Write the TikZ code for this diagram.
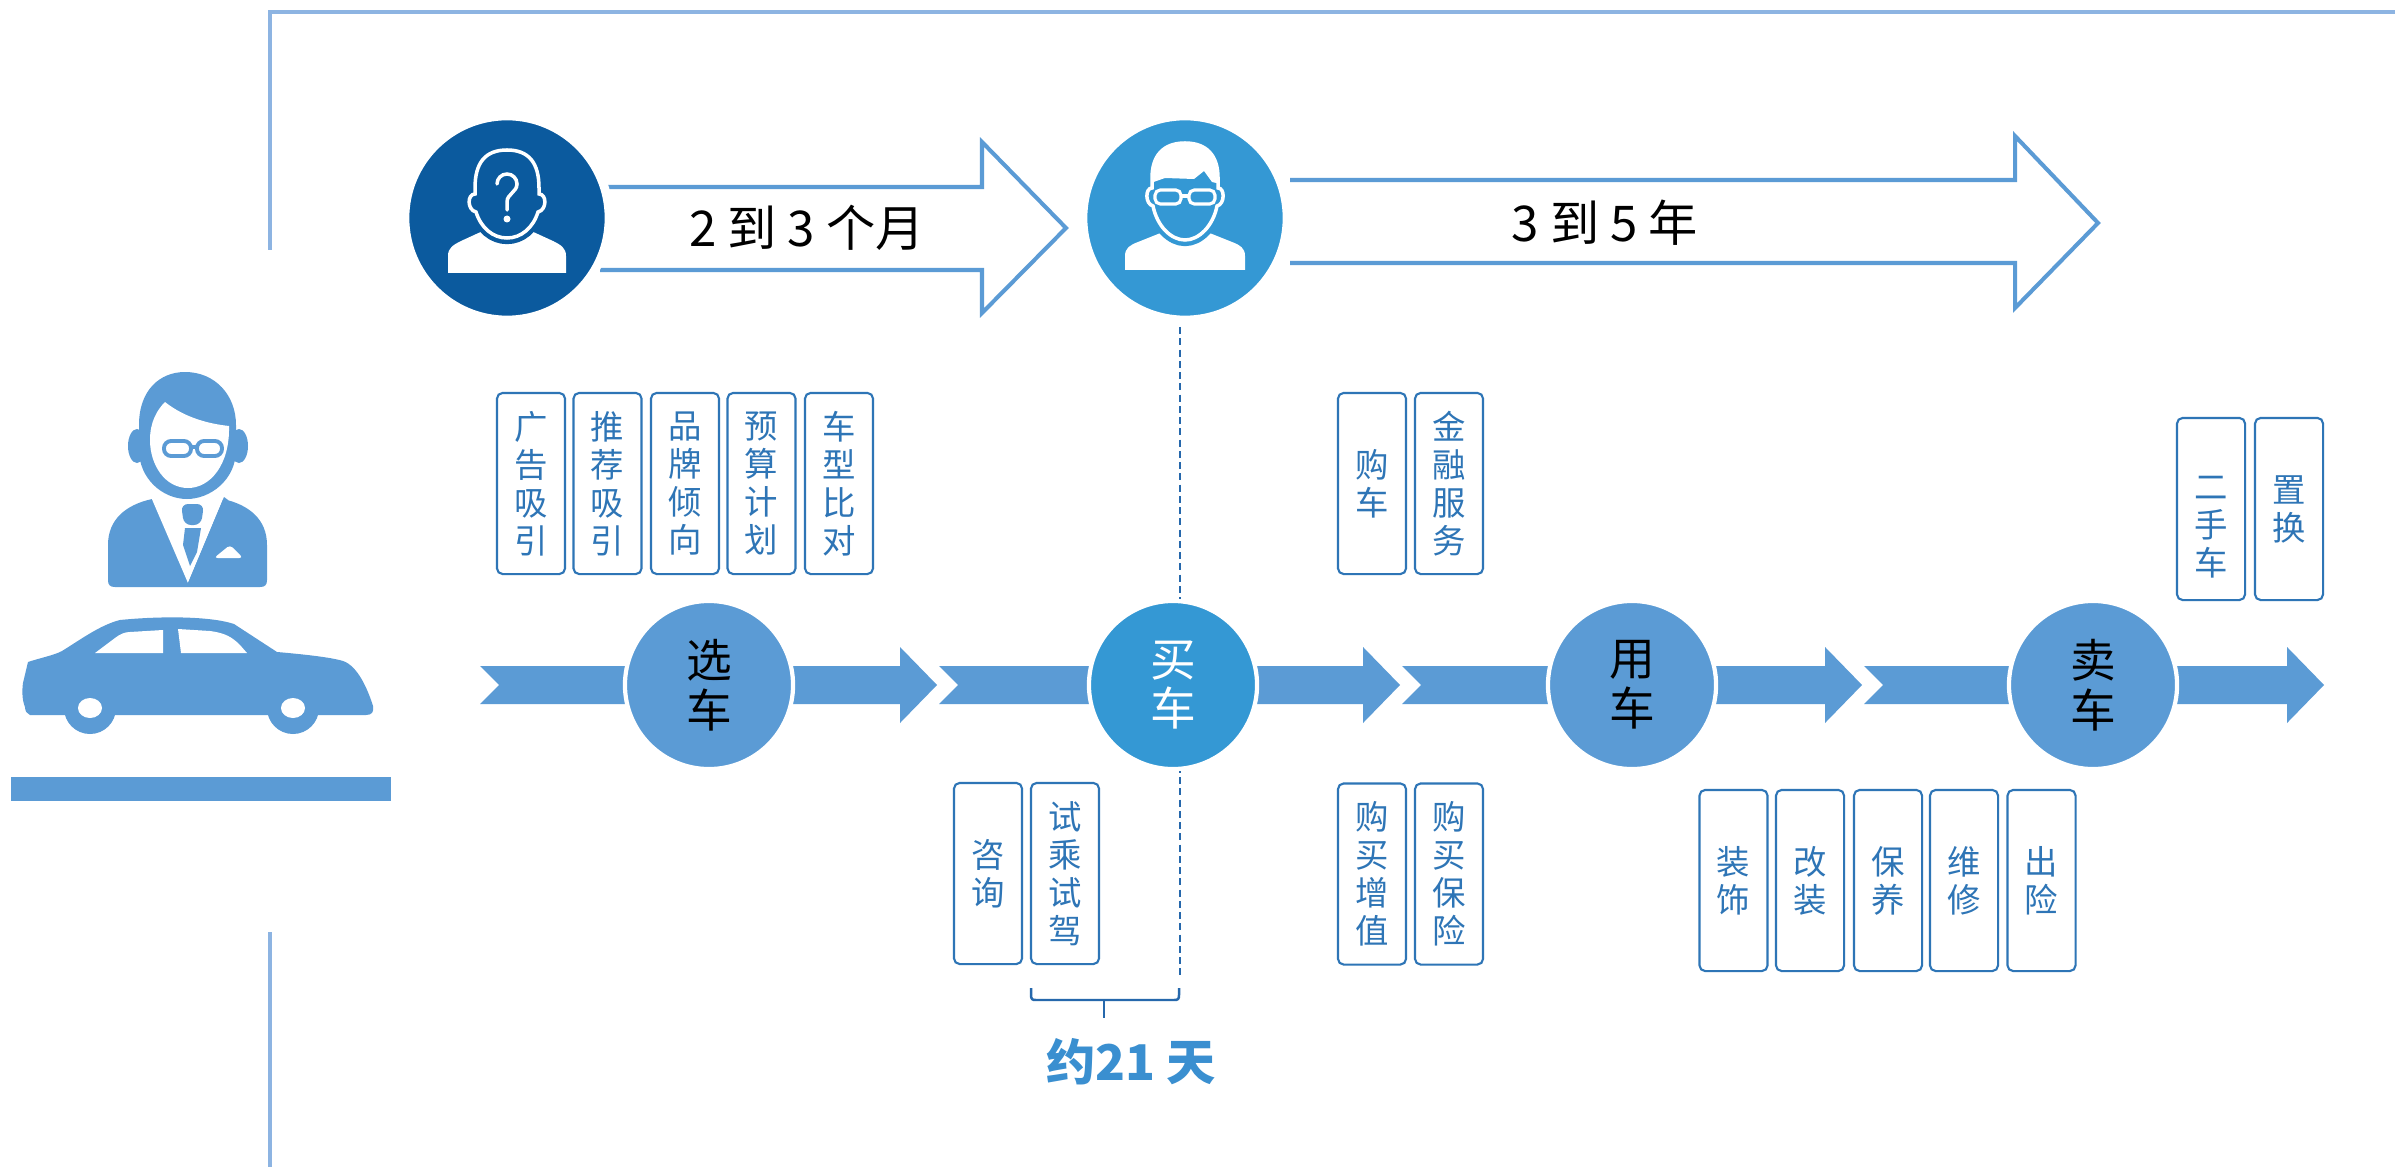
\documentclass[tikz,border=0pt]{standalone}
\usepackage{fontspec}
\newfontfamily\cjk{Noto Sans CJK SC}
\usetikzlibrary{calc}
\definecolor{stageblue}{RGB}{91,155,213}
\definecolor{buyblue}{RGB}{52,152,212}
\definecolor{darkcirc}{RGB}{11,90,158}
\definecolor{boxblue}{RGB}{46,117,182}
\definecolor{framecol}{RGB}{141,180,226}
\definecolor{daycol}{RGB}{58,143,208}
\definecolor{dashcol}{RGB}{38,104,172}

\begin{document}
\begin{tikzpicture}[x=0.01cm, y=-0.01cm,
  tagbox/.style={draw=boxblue, line width=0.6pt, rounded corners=1.6pt,
    minimum width=0.68cm, minimum height=1.81cm, inner sep=0pt,
    text=boxblue, font=\cjk\fontsize{9.5}{10.8}\selectfont, align=center},
  tagtext/.style={inner sep=0pt, text=boxblue,
    font=\cjk\fontsize{9.5}{10.8}\selectfont, align=center},
  stage/.style={circle, fill=stageblue, draw=white, line width=1.2pt,
    minimum size=1.68cm, inner sep=0pt,
    font=\cjk\fontsize{13}{14.2}\selectfont, align=center},
  bigdisc/.style={circle, draw=white, line width=2.5pt,
    minimum size=2.04cm, inner sep=0pt},
  outarrow/.style={draw=stageblue, line width=1.15pt, fill=white},
  spanlabel/.style={font=\cjk\fontsize{14}{16}\selectfont, inner sep=0pt},
]
\useasboundingbox (0,0) rectangle (2395,1167);
\fill[white] (0,0) rectangle (2395,1167);

% frame lines
\draw[framecol, line width=1.14pt] (270,250) -- (270,12) -- (2395,12);
\draw[framecol, line width=1.14pt] (270,932) -- (270,1167);

% ---------- customer and car on the left ----------
% body
\fill[stageblue] (108,580) -- (108,545) .. controls (108,520) and (125,505) .. (152,499)
  -- (223,499) .. controls (250,505) and (267,520) .. (267,545) -- (267,580)
  .. controls (267,585) and (265,587) .. (260,587) -- (115,587)
  .. controls (110,587) and (108,585) .. (108,580) -- cycle;
\fill[white] (151,497) -- (188,583) -- (224,497) -- cycle;
\fill[stageblue, rounded corners=2pt] (181,504) -- (204,504) -- (201,525) -- (184,525) -- cycle;
\fill[stageblue] (185,528) -- (201,528) -- (197,552) -- (190,566) -- (183,545) -- cycle;
\fill[stageblue] (224,497) -- (228,500) -- (192,585) -- (188,583) -- cycle;
\fill[white, rounded corners=1pt] (214,558) -- (243,558) -- (230,545) -- cycle;
% ears and head
\fill[stageblue] (137,446) ellipse (9 and 17);
\fill[stageblue] (239,446) ellipse (9 and 17);
\fill[stageblue] (185,372) .. controls (215,372) and (236,395) .. (236,425) -- (236,450)
  .. controls (236,480) and (210,499) .. (187,499) .. controls (162,499) and (139,478) .. (139,450)
  -- (139,425) .. controls (139,390) and (160,372) .. (185,372) -- cycle;
\fill[white] (165,402) .. controls (185,418) and (210,424) .. (229,426)
  .. controls (230,465) and (210,488) .. (188,488)
  .. controls (165,488) and (150,465) .. (150,440)
  .. controls (150,422) and (157,410) .. (165,402) -- cycle;
\draw[stageblue, line width=1.1pt, rounded corners=2pt] (164,441) rectangle (191,456);
\draw[stageblue, line width=1.1pt, rounded corners=2pt] (197,441) rectangle (222,456);
\draw[stageblue, line width=1.1pt] (191,447) -- (197,447);

% car
\fill[stageblue] (25,707) .. controls (22,700) and (22,690) .. (23,683) -- (28,662)
  .. controls (40,658) and (55,655) .. (62,651) .. controls (80,640) and (100,625) .. (120,620)
  .. controls (160,616) and (210,616) .. (234,624) -- (277,652)
  .. controls (300,654) and (330,657) .. (343,661) .. controls (358,666) and (368,690) .. (373,706)
  .. controls (374,712) and (372,715) .. (366,715) -- (30,715)
  .. controls (27,714) and (25,711) .. (25,707) -- cycle;
\fill[stageblue] (90,708) circle (26);
\fill[stageblue] (293,708) circle (26);
\fill[white] (90,708) ellipse (12 and 10);
\fill[white] (293,708) ellipse (12 and 10);
\fill[white] (95,653) -- (115,638) .. controls (120,634) and (125,632) .. (130,632) -- (163,630) -- (163,653) -- cycle;
\fill[white] (178,629) -- (210,631) .. controls (225,633) and (232,637) .. (240,645) -- (247,653) -- (181,653) -- cycle;
% ground bar
\fill[stageblue] (11,777) rectangle (391,801);

% ---------- time span arrows ----------
\draw[outarrow] (600,187) -- (982,187) -- (982,142) -- (1066,228) -- (982,313) -- (982,270) -- (600,270);
\draw[outarrow] (1290,180) -- (2015,180) -- (2015,136) -- (2098,223) -- (2015,308) -- (2015,263) -- (1290,263);
\node[spanlabel] (months) at (807,228) {2 到 3 个月};
\node[spanlabel] (years) at (1605,223) {3 到 5 年};

% dashed marker under the buyer
\coordinate (dtop) at (1180,327);
\coordinate (dbot) at (1180,975);
\draw[dashcol, line width=0.6pt, dash pattern=on 2pt off 1.2pt] (dtop) -- (dbot);

% prospect disc with question mark
\node[bigdisc, fill=darkcirc] (q) at (507,218) {};
\begin{scope}[shift={(507,218)}]
  \fill[white] (-59,55) -- (-59,38) .. controls (-59,30) and (-54,27) .. (-46,23) -- (-22,12)
    .. controls (-12,24) and (12,24) .. (22,12) -- (46,23)
    .. controls (54,27) and (59,30) .. (59,38) -- (59,55) -- cycle;
  \draw[white, line width=1pt, preaction={draw=darkcirc, line width=3.5pt, fill=darkcirc}]
    (0,-68) .. controls (22,-68) and (32,-55) .. (32,-30) -- (32,-24)
    .. controls (40,-24) and (40,-8) .. (31,-6) .. controls (26,10) and (14,20) .. (0,20)
    .. controls (-14,20) and (-26,10) .. (-31,-6) .. controls (-40,-8) and (-40,-24) .. (-32,-24)
    -- (-32,-30) .. controls (-32,-55) and (-22,-68) .. (0,-68) -- cycle;
  \draw[white, line width=1pt, line cap=round] (-10,-34) arc (180:360:10)
    .. controls (10,-26) and (0,-24) .. (0,-16) -- (0,-8);
  \fill[white] (0,1) circle (3.5);
\end{scope}

% buyer disc with glasses
\node[bigdisc, fill=buyblue] (g) at (1185,218) {};
\begin{scope}[shift={(1185,218)}]
  \fill[white] (-60,52) -- (-60,38) .. controls (-60,30) and (-55,27) .. (-47,24) -- (-22,14)
    .. controls (-12,26) and (12,26) .. (22,14) -- (47,24)
    .. controls (55,27) and (60,30) .. (60,38) -- (60,52) -- cycle;
  \draw[white, line width=1pt, preaction={draw=buyblue, line width=3.5pt, fill=buyblue}]
    (0,-75) .. controls (22,-75) and (33,-62) .. (33,-40) -- (33,-30)
    .. controls (40,-30) and (40,-14) .. (32,-12) .. controls (28,8) and (14,22) .. (0,22)
    .. controls (-14,22) and (-28,8) .. (-32,-12) .. controls (-40,-14) and (-40,-30) .. (-33,-30)
    -- (-33,-40) .. controls (-33,-62) and (-22,-75) .. (0,-75) -- cycle;
  \begin{scope}
    \clip (0,-75) .. controls (22,-75) and (33,-62) .. (33,-40) -- (33,-30) -- (-33,-30)
      -- (-33,-40) .. controls (-33,-62) and (-22,-75) .. (0,-75) -- cycle;
    \fill[white] (-40,-80) -- (40,-80) -- (40,-33) -- (27,-36) -- (19,-47) -- (9,-39)
      -- (-20,-40) -- (-40,-33) -- cycle;
  \end{scope}
  \draw[white, line width=0.9pt, rounded corners=1.5pt] (-30,-28) rectangle (-4,-14);
  \draw[white, line width=0.9pt, rounded corners=1.5pt] (4,-28) rectangle (30,-14);
  \draw[white, line width=0.9pt] (-4,-22) -- (4,-22);
\end{scope}

% ---------- stage band ----------
\foreach \a/\b in {480/937, 939/1400, 1402/1862, 1864/2324}
  \fill[stageblue] (\a,666) -- (\b-37,666) -- (\b-37,647) -- (\b,685) -- (\b-37,723)
    -- (\b-37,704) -- (\a,704) -- (\a+19,685) -- cycle;

\node[stage] (choose) at (709,685) {选\\车};
\node[stage, fill=buyblue, text=white] (buy) at (1173,685) {买\\车};
\node[stage] (use) at (1632,685) {用\\车};
\node[stage] (sell) at (2093,685) {卖\\车};

% ---------- activity tags ----------
\node[tagbox] (t1) at (531,483.5) {广\\告\\吸\\引};
\node[tagbox] (t2) at (607.5,483.5) {推\\荐\\吸\\引};
\node[tagbox] (t3) at (685,483.5) {品\\牌\\倾\\向};
\node[tagbox] (t4) at (761.5,483.5) {预\\算\\计\\划};
\node[tagbox] (t5) at (839,483.5) {车\\型\\比\\对};

\node[tagbox] (t6) at (1372,483.5) {购\\车};
\node[tagbox] (t7) at (1449,483.5) {金\\融\\服\\务};

\node[tagbox, minimum height=1.82cm] (t8) at (2211,509) {};
\node[tagtext] (t8t) at (2211,527) {二\\手\\车};
\node[tagbox, minimum height=1.82cm] (t9) at (2289,509) {置\\换};

\node[tagbox] (b1) at (988,873.5) {咨\\询};
\node[tagbox] (b2) at (1065,873.5) {试\\乘\\试\\驾};

\node[tagbox] (b3) at (1372,874) {购\\买\\增\\值};
\node[tagbox] (b4) at (1449,874) {购\\买\\保\\险};

\node[tagbox] (b5) at (1733.5,880.5) {装\\饰};
\node[tagbox] (b6) at (1810,880.5) {改\\装};
\node[tagbox] (b7) at (1888,880.5) {保\\养};
\node[tagbox] (b8) at (1964,880.5) {维\\修};
\node[tagbox] (b9) at (2041.5,880.5) {出\\险};

% brace under the test drive span
\coordinate (brl) at (1031,988);
\coordinate (brr) at (1179,988);
\coordinate (brm) at (1104,1000);
\draw[dashcol, line width=0.7pt] (brl) -- (1031,995) .. controls (1031,999) and (1032,1000) .. (1036,1000)
  -- (1174,1000) .. controls (1178,1000) and (1179,999) .. (1179,995) -- (brr);
\draw[dashcol, line width=0.7pt] (brm) -- (1104,1018);
\node[font=\cjk\bfseries\fontsize{14}{16}\selectfont, text=daycol, inner sep=0pt] (days) at (1131,1062) {约21 天};
\end{tikzpicture}
\end{document}
